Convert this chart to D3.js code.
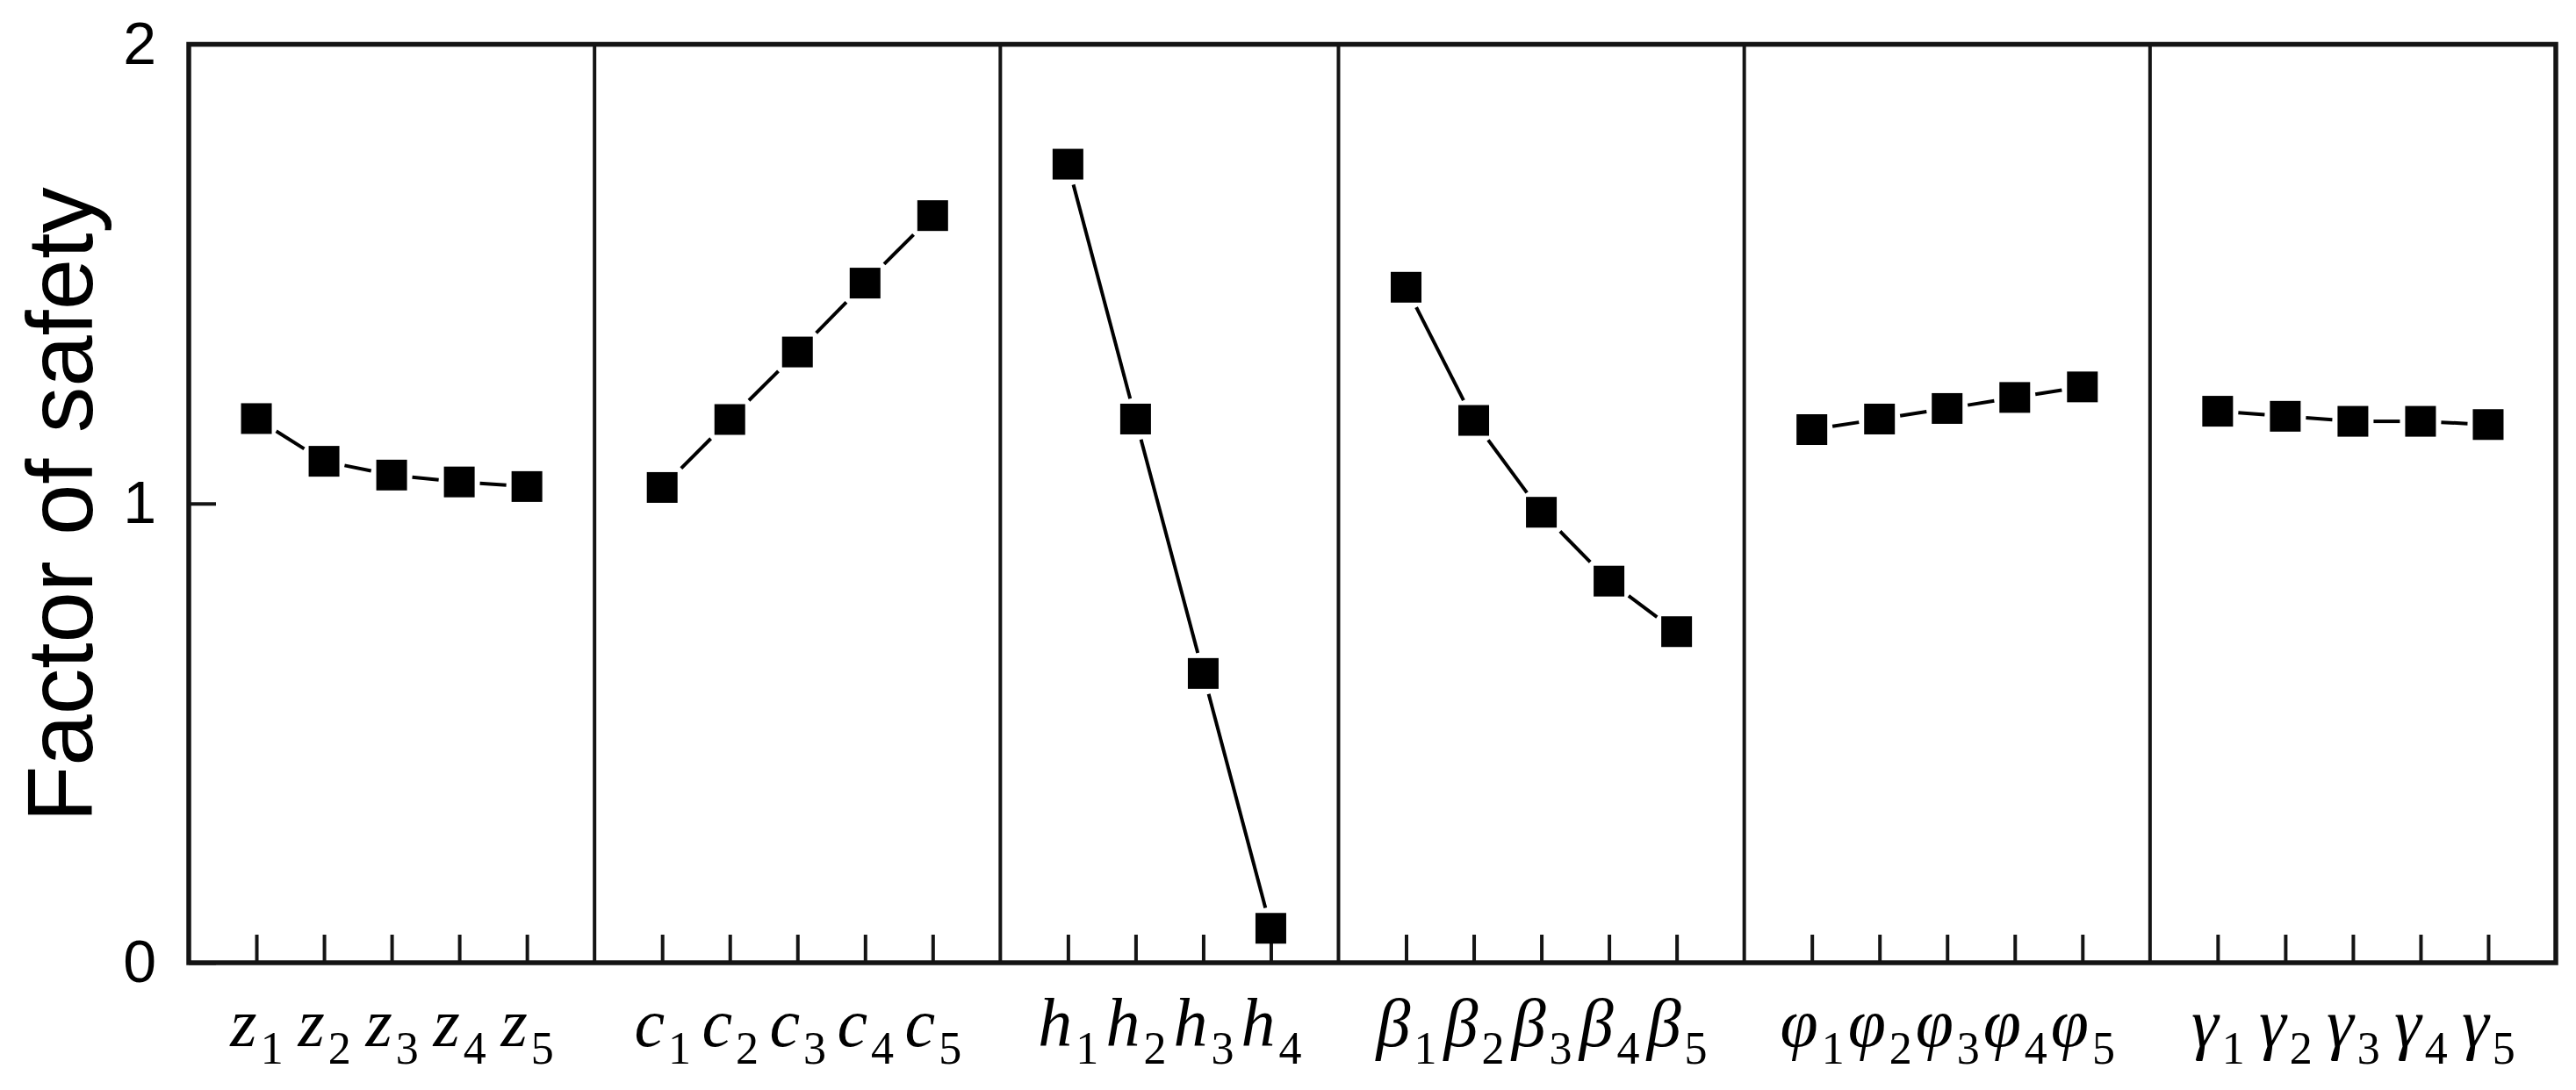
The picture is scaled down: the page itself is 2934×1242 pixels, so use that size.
<!DOCTYPE html>
<html>
<head>
<meta charset="utf-8">
<script src="https://cdn.jsdelivr.net/npm/d3@7"></script>
<style>
  html, body { margin: 0; padding: 0; background: #ffffff; }
  svg { display: block; }
</style>
</head>
<body>
<svg id="chart" width="2934" height="1242"></svg>
<script>
// ---------------- data ----------------
const panelLetters = ["z", "c", "h", "\u03B2", "\u03C6", "\u03B3"];
const zValues     = [1.185, 1.092, 1.062, 1.047, 1.037];
const cValues     = [1.035, 1.183, 1.330, 1.480, 1.627];
const hValues     = [1.739, 1.184, 0.630, 0.075];
const betaValues  = [1.471, 1.181, 0.981, 0.831, 0.721];
const phiValues   = [1.161, 1.184, 1.207, 1.231, 1.254];
const gammaValues = [1.201, 1.190, 1.179, 1.179, 1.172];
const yTickValues = [0, 1, 2];
const yLabel = "Factor of safety";

const seriesList = [zValues, cValues, hValues, betaValues, phiValues, gammaValues];

// ---------------- layout ----------------
const plotLeft = 215, plotRight = 2911, plotTop = 50.5, plotBottom = 1097;
const markerSize = 35, gap = 6;
const frameColor = "#141414";

const totalUnits = d3.sum(seriesList, s => s.length + 1);
const x = d3.scaleLinear().domain([0, totalUnits]).range([plotLeft, plotRight]);
const y = d3.scaleLinear().domain([0, 2]).range([plotBottom, plotTop]);

const svg = d3.select("#chart");
svg.append("rect").attr("width", 2934).attr("height", 1242).attr("fill", "#fff");

// panel offsets
const offsets = [];
let acc = 0;
seriesList.forEach(s => { offsets.push(acc); acc += s.length + 1; });

// ---------------- lines (with gaps near symbols) ----------------
const lineG = svg.append("g");
seriesList.forEach((vals, p) => {
  const pts = vals.map((v, i) => [x(offsets[p] + i + 1), y(v)]);
  for (let i = 0; i < pts.length - 1; i++) {
    const [x0, y0] = pts[i], [x1, y1] = pts[i + 1];
    const dx = x1 - x0, dy = y1 - y0, L = Math.hypot(dx, dy);
    const ux = dx / L, uy = dy / L;
    const t = (markerSize / 2) / Math.max(Math.abs(ux), Math.abs(uy)) + gap;
    if (L > 2 * t) {
      lineG.append("line")
        .attr("x1", x0 + ux * t).attr("y1", y0 + uy * t)
        .attr("x2", x1 - ux * t).attr("y2", y1 - uy * t)
        .attr("stroke", "#000").attr("stroke-width", 4);
    }
  }
});

// ---------------- bottom axes (ticks inward, subscript labels) ----------------
seriesList.forEach((vals, p) => {
  const idx = d3.range(1, vals.length + 1);
  const axis = d3.axisBottom(x)
    .tickValues(idx.map(i => offsets[p] + i))
    .tickSizeInner(-32).tickSizeOuter(0)
    .tickFormat(() => "");
  const g = svg.append("g").attr("transform", `translate(0,${plotBottom})`).call(axis);
  g.select(".domain").remove();
  g.selectAll(".tick line").attr("stroke", frameColor).attr("stroke-width", 4);
  g.selectAll(".tick text").each(function(d, i) {
    const t = d3.select(this)
      .attr("y", 95).attr("dy", null)
      .attr("fill", "#000")
      .attr("font-family", "'Liberation Serif', 'Times New Roman', serif")
      .attr("text-anchor", "middle")
      .text(null);
    t.append("tspan")
      .attr("font-size", 78).attr("font-style", "italic")
      .text(panelLetters[p]);
    t.append("tspan")
      .attr("font-size", 52).attr("font-style", "normal")
      .attr("dx", 4).attr("dy", 20)
      .text(String(i + 1));
  });
});

// ---------------- left axis ----------------
const yAxis = d3.axisLeft(y).tickValues(yTickValues).tickSizeInner(-31).tickSizeOuter(0).tickPadding(37).tickFormat(d3.format("d"));
const yg = svg.append("g").attr("transform", `translate(${plotLeft},0)`).call(yAxis);
yg.select(".domain").remove();
yg.selectAll(".tick line").attr("stroke", frameColor).attr("stroke-width", 4);
yg.selectAll(".tick text")
  .attr("font-family", "'Liberation Sans', Arial, sans-serif")
  .attr("font-size", 68).attr("fill", "#000");

// ---------------- panel dividers ----------------
svg.append("g").selectAll("line")
  .data(offsets.slice(1))
  .join("line")
  .attr("x1", d => x(d)).attr("x2", d => x(d))
  .attr("y1", plotTop).attr("y2", plotBottom)
  .attr("stroke", frameColor).attr("stroke-width", 4);

// ---------------- frame ----------------
svg.append("rect")
  .attr("x", plotLeft).attr("y", plotTop)
  .attr("width", plotRight - plotLeft).attr("height", plotBottom - plotTop)
  .attr("fill", "none").attr("stroke", frameColor).attr("stroke-width", 5.5);

// ---------------- markers ----------------
seriesList.forEach((vals, p) => {
  svg.append("g").selectAll("rect")
    .data(vals)
    .join("rect")
    .attr("x", (v, i) => x(offsets[p] + i + 1) - markerSize / 2)
    .attr("y", v => y(v) - markerSize / 2)
    .attr("width", markerSize).attr("height", markerSize)
    .attr("fill", "#000");
});

// ---------------- y label ----------------
svg.append("text")
  .attr("transform", `translate(105,575) rotate(-90)`)
  .attr("text-anchor", "middle")
  .attr("font-family", "'Liberation Sans', Arial, sans-serif")
  .attr("font-size", 105)
  .attr("fill", "#000")
  .text(yLabel);
</script>
</body>
</html>
